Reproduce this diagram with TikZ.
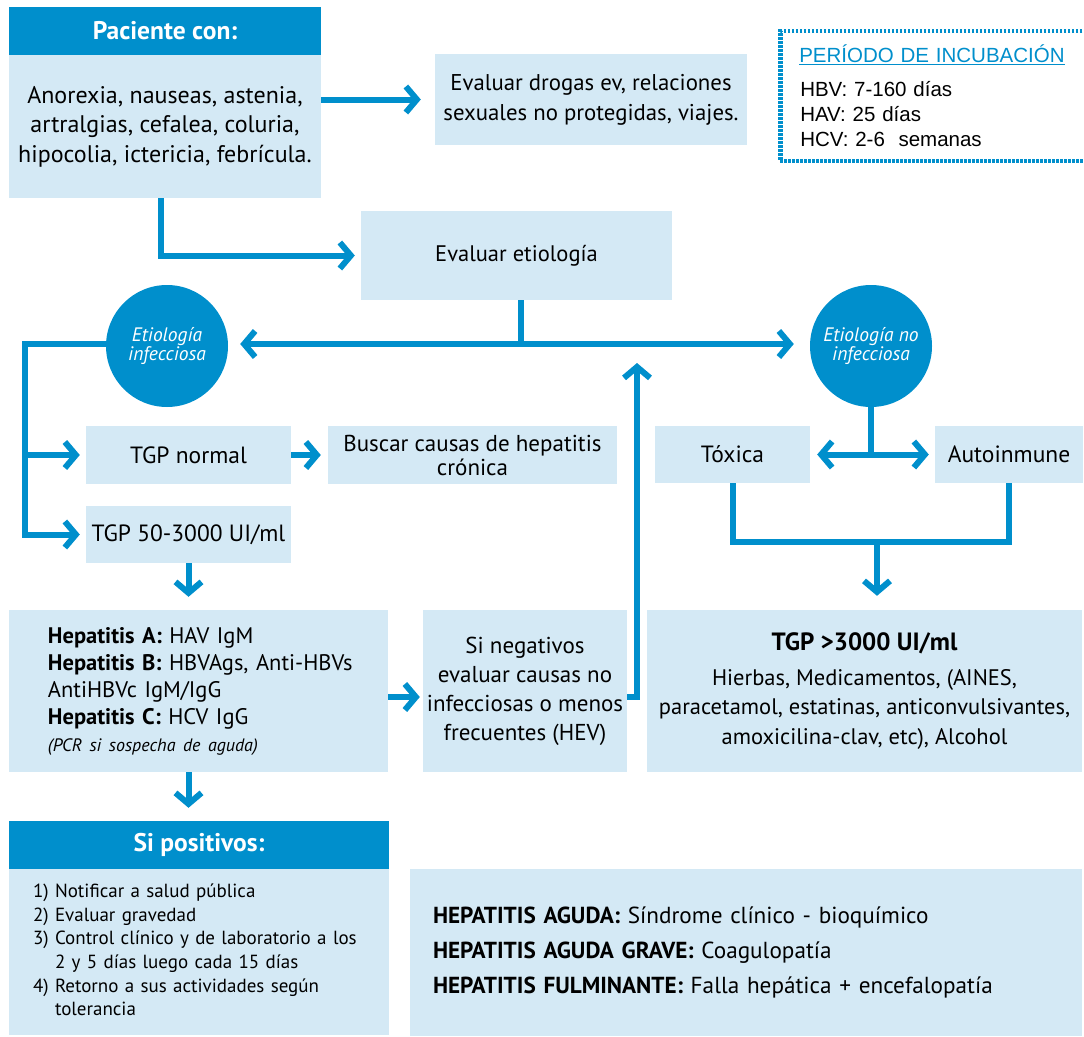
\documentclass[tikz,border=0pt]{standalone}
\usepackage{fontspec}
\setmainfont{PT Sans}
\newfontfamily\helv{Liberation Sans}
\usetikzlibrary{arrows.meta,calc}
\definecolor{dblue}{HTML}{008FCC}
\definecolor{lblue}{HTML}{D4E9F5}
\newcommand{\fs}[2]{\fontsize{#1}{#2}\selectfont}
\newcommand{\ind}{\hspace*{39pt}}
\begin{document}
\begin{tikzpicture}[x=1pt,y=-1pt,
  box/.style={fill=lblue, inner sep=0pt, align=center, text=black, font=\fs{22.5}{29}},
  head/.style={fill=dblue, text=white, inner sep=0pt, font=\bfseries\fs{25.5}{28}},
  circ/.style={circle, fill=dblue, text=white, minimum size=122pt, inner sep=0pt,
               align=center, font=\itshape\fs{19.5}{19.5}},
  conn/.style={draw=dblue, line width=6pt},
  arr/.style={conn, -{Straight Barb[length=11pt,width=26pt]}},
]
\useasboundingbox (0,0) rectangle (1084,1036);

% --- boxes ---
\node[head, minimum width=312pt, minimum height=48pt] (pachead) at (165,31) {Paciente con:};
\node[box, minimum width=312pt, minimum height=143pt, font=\fs{24}{29.5}] (pacbody) at (165,126.5)
  {Anorexia, nauseas, astenia,\\artralgias, cefalea, coluria,\\hipocolia, ictericia, febrícula.};
\node[box, minimum width=312pt, minimum height=91pt, font=\fs{22.8}{30}] (drogas) at (591,99.5)
  {Evaluar drogas ev, relaciones\\sexuales no protegidas, viajes.};
% incubation box runs past the right edge of the page
\node[draw=dblue, line width=4.5pt, dash pattern=on 2.5pt off 1.5pt, fill=white,
      minimum width=320pt, minimum height=130pt, text width=300pt, inner xsep=10pt,
      align=left, font=\helv\fs{20.5}{25}, anchor=west] (incub) at (778,96)
  {\hspace*{9pt}{\color{dblue}\underline{PERÍODO DE INCUBACIÓN}}\\[9pt]
   \hspace*{10pt}HBV: 7-160 días\\\hspace*{10pt}HAV: 25 días\\\hspace*{10pt}HCV: 2-6\ \ semanas};
\node[box, minimum width=311pt, minimum height=89pt] (etiol) at (516.5,255.5) {Evaluar etiología};

\node[circ] (cinf) at (167,346) {Etiología\\infecciosa};
\node[circ] (cnoinf) at (871,346) {Etiología no\\infecciosa};

\node[box, minimum width=205pt, minimum height=58pt, font=\fs{23.5}{29}] (tgpn) at (188.5,455) {TGP normal};
\node[box, minimum width=205pt, minimum height=57pt, font=\fs{23.5}{29}] (tgp50) at (188.5,534.5) {TGP 50-3000 UI/ml};
\node[box, minimum width=289pt, minimum height=58pt, font=\fs{23}{24}] (buscar) at (472.5,455)
  {Buscar causas de hepatitis\\crónica};
\node[box, minimum width=155pt, minimum height=57pt, font=\fs{23.5}{29}] (toxica) at (732.5,454.5) {Tóxica};
\node[box, minimum width=148pt, minimum height=57pt, font=\fs{23.5}{29}] (autoin) at (1009,454.5) {Autoinmune};

\node[box, minimum width=379pt, minimum height=162pt, text width=379pt, inner xsep=0pt,
      align=left, font=\fs{22.5}{27}] (hepab) at (198.5,691)
  {\ind\textbf{Hepatitis A:} HAV IgM\\
   \ind\textbf{Hepatitis B:} HBVAgs, Anti-HBVs\\
   \ind AntiHBVc IgM/IgG\\
   \ind\textbf{Hepatitis C:} HCV IgG\\
   \ind{\itshape\fs{18}{27}(PCR si sospecha de aguda)}};
\node[box, minimum width=204pt, minimum height=162pt, font=\fs{23}{29}] (sineg) at (525,691)
  {Si negativos\\evaluar causas no\\infecciosas o menos\\frecuentes (HEV)};
\node[box, minimum width=435pt, minimum height=162pt, font=\fs{22.5}{29.5}] (tgp3000) at (864.5,691)
  {{\bfseries\fs{25}{26}TGP >3000 UI/ml}\\[5pt]
   Hierbas, Medicamentos, (AINES,\\
   paracetamol, estatinas, anticonvulsivantes,\\
   amoxicilina-clav, etc), Alcohol};

\node[head, minimum width=380pt, minimum height=48pt] (siposhead) at (199,845) {Si positivos:};
\node[box, minimum width=380pt, minimum height=166pt, text width=332pt, inner xsep=24pt,
      align=left, font=\fs{19}{23.6}] (sipos) at (199,952)
  {1) Notificar a salud pública\\
   2) Evaluar gravedad\\
   3) Control clínico y de laboratorio a los\\
   \phantom{3) }2 y 5 días luego cada 15 días\\
   4) Retorno a sus actividades según\\
   \phantom{4) }tolerancia};
\node[box, minimum width=672pt, minimum height=167pt, text width=626pt, inner xsep=23pt,
      align=left, font=\fs{23.2}{35}] (defs) at (746,952.5)
  {\textbf{HEPATITIS AGUDA:} Síndrome clínico - bioquímico\\
   \textbf{HEPATITIS AGUDA GRAVE:} Coagulopatía\\
   \textbf{HEPATITIS FULMINANTE:} Falla hepática + encefalopatía};

% --- connectors ---
\draw[arr, shorten >=14pt] (pacbody.east |- drogas.west) -- (drogas.west);
\draw[arr, shorten >=6pt] ([xshift=-4pt]pacbody.south) |- (etiol.west);

\coordinate (split) at ([xshift=4.5pt]etiol.south |- 0,344);
\draw[conn] ([xshift=4.5pt]etiol.south) -- (split);
\draw[arr, shorten >=12pt] (split) -- (cinf.east |- split);
\draw[arr, shorten >=16pt] (split) -- (cnoinf.west |- split);

\coordinate (lbend) at (25,344);
\draw[conn] (cinf.west |- lbend) -- (lbend) -- (lbend |- tgp50.west);
\draw[arr, shorten >=6pt] ([xshift=-3pt]lbend |- tgp50.west) -- (tgp50.west);
\draw[arr, shorten >=6pt] (lbend |- tgpn.west) -- (tgpn.west);
\draw[arr, shorten >=7pt] (tgpn.east) -- (buscar.west);

\draw[arr, shorten >=13pt] (tgp50.south) -- (tgp50.south |- hepab.north);
\draw[arr, shorten >=3pt] ($(hepab.east)+(0,6)$) -- ($(sineg.west)+(0,6)$);
\coordinate (uptip) at (637,363);
\draw[arr] ($(sineg.east)+(0,6)$) -| (uptip);
\draw[arr, shorten >=13pt] (tgp50.south |- hepab.south) -- (tgp50.south |- siposhead.north);

\coordinate (nsplit) at (cnoinf.south |- toxica.east);
\draw[conn] (cnoinf.south) -- (nsplit);
\draw[arr, shorten >=7pt] (nsplit) -- (toxica.east);
\draw[arr, shorten >=6pt] (nsplit) -- (autoin.west);

\coordinate (merge) at (877,542);
\draw[conn] (toxica.south) |- (merge) -| (autoin.south);
\draw[arr, shorten >=14pt] (merge) -- (merge |- tgp3000.north);
\end{tikzpicture}
\end{document}
